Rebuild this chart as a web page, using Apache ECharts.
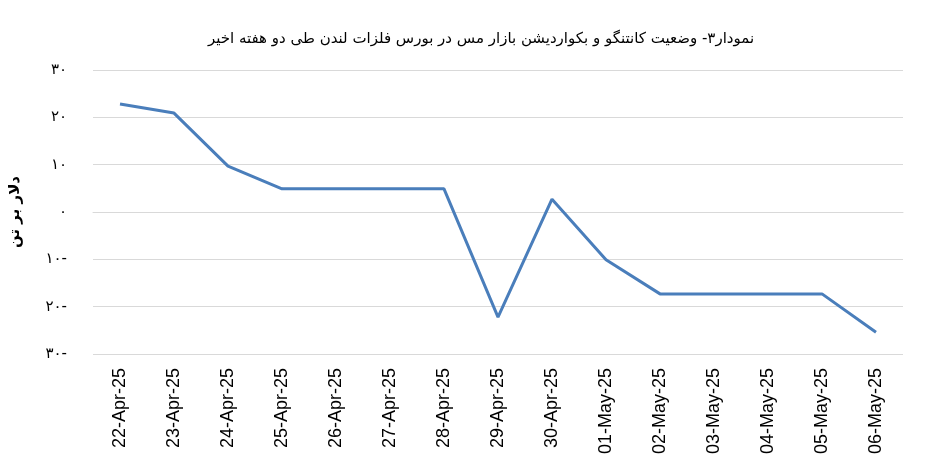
<!DOCTYPE html>
<html><head><meta charset="utf-8">
<script src="https://cdn.jsdelivr.net/npm/echarts@6/dist/echarts.min.js"></script>
<style>html,body{margin:0;padding:0;background:#fff}#c{width:945px;height:474px}</style>
</head><body><div id="c"></div>
<script>
const categories = ['22-Apr-25','23-Apr-25','24-Apr-25','25-Apr-25','26-Apr-25','27-Apr-25','28-Apr-25','29-Apr-25','30-Apr-25','01-May-25','02-May-25','03-May-25','04-May-25','05-May-25','06-May-25'];
const spread = [22.8, 20.9, 9.7, 4.9, 4.9, 4.9, 4.9, -22.2, 2.7, -10.1, -17.3, -17.3, -17.3, -17.3, -25.4];
const titleText = 'نمودار۳- وضعیت کانتنگو و بکواردیشن بازار مس در بورس فلزات لندن طی دو هفته اخیر';
const yName = 'دلار بر تن';
const faDigits = ['۰','۱','۲','۳','۴','۵','۶','۷','۸','۹'];
function fa(v){
  const s = String(Math.abs(v)).replace(/\d/g, d => faDigits[+d]);
  return v < 0 ? s + '-' : s;
}
const chart = echarts.init(document.getElementById('c'));
chart.setOption({
  animation: false,
  title: {text: titleText, left: 476, textAlign: 'center', top: 27,
    textStyle: {fontFamily: 'DejaVu Sans', fontSize: 15, fontWeight: 'normal', color: '#000'}},
  grid: {left: 92, right: 42, top: 70, bottom: 120, containLabel: false},
  xAxis: {type: 'category', data: categories, boundaryGap: true,
    axisLine: {show: true, lineStyle: {color: '#d9d9d9'}},
    axisTick: {show: false},
    axisLabel: {rotate: 90, fontFamily: 'Liberation Sans', fontSize: 18, color: '#000', margin: 14}},
  yAxis: {type: 'value', min: -30, max: 30, interval: 10,
    name: yName, nameLocation: 'middle', nameRotate: 90, nameGap: 70,
    nameTextStyle: {fontFamily: 'DejaVu Sans', fontSize: 15, fontWeight: 'bold', color: '#000'},
    axisLine: {show: false}, axisTick: {show: false},
    splitLine: {lineStyle: {color: '#d9d9d9', width: 1}},
    axisLabel: {formatter: fa, fontFamily: 'DejaVu Sans', fontSize: 15, color: '#000', margin: 26}},
  series: [{type: 'line', data: spread, symbol: 'none',
    lineStyle: {color: '#4a7ebb', width: 3}}]
});
</script></body></html>
